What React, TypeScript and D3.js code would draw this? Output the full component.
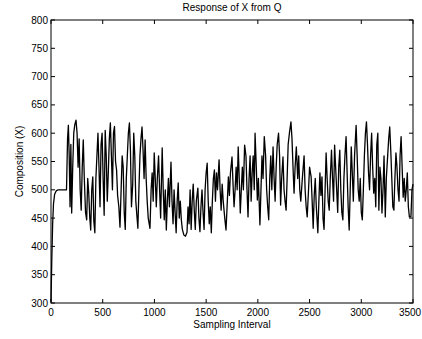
import React from "react";
import * as d3 from "d3";

const title = "Response of X from Q";
const xLabel = "Sampling Interval";
const yLabel = "Composition (X)";
const xTicks = [0, 500, 1000, 1500, 2000, 2500, 3000, 3500];
const yTicks = [300, 350, 400, 450, 500, 550, 600, 650, 700, 750, 800];

const sampleIndex = [
  0, 8, 16, 24, 35, 50, 70, 150, 160, 168, 176, 184, 192, 200, 210, 220, 230, 242, 252, 262, 272, 282, 292, 302, 312, 322, 334, 345, 355, 365, 375, 384, 394, 404, 414, 424, 434, 444, 454, 464, 474, 484, 494, 504, 514, 524, 534, 544, 554, 564, 574, 584, 594, 604, 614, 624, 634, 644, 656, 667, 678, 688, 698, 708, 718, 728, 738, 748, 758, 768, 778, 790, 800, 810, 820, 830, 840, 850, 860, 870, 880, 890, 900, 910, 920, 930, 940, 957, 968, 978, 988, 998, 1008, 1018, 1028, 1040, 1050, 1060, 1075, 1085, 1095, 1105, 1115, 1125, 1135, 1145, 1160, 1170, 1180, 1190, 1200, 1210, 1220, 1230, 1240, 1250, 1260, 1270, 1285, 1300, 1315, 1325, 1335, 1345, 1355, 1365, 1375, 1385, 1395, 1405, 1420, 1430, 1440, 1450, 1460, 1470, 1480, 1490, 1500, 1510, 1520, 1530, 1540, 1550, 1560, 1570, 1580, 1590, 1600, 1610, 1625, 1635, 1645, 1655, 1665, 1680, 1692, 1705, 1715, 1725, 1735, 1750, 1760, 1770, 1780, 1790, 1800, 1810, 1820, 1830, 1840, 1850, 1860, 1872, 1885, 1895, 1905, 1915, 1925, 1935, 1945, 1955, 1965, 1973, 1985, 1995, 2005, 2020, 2030, 2040, 2050, 2062, 2075, 2085, 2095, 2105, 2115, 2125, 2135, 2147, 2157, 2167, 2177, 2187, 2200, 2210, 2220, 2230, 2243, 2253, 2263, 2273, 2283, 2293, 2305, 2320, 2330, 2340, 2350, 2360, 2372, 2385, 2395, 2405, 2415, 2430, 2447, 2457, 2467, 2477, 2490, 2500, 2515, 2525, 2535, 2545, 2555, 2565, 2580, 2590, 2600, 2610, 2620, 2630, 2640, 2650, 2660, 2670, 2680, 2690, 2700, 2712, 2722, 2732, 2742, 2752, 2762, 2772, 2782, 2792, 2802, 2812, 2822, 2832, 2842, 2853, 2863, 2873, 2883, 2893, 2903, 2913, 2923, 2935, 2950, 2960, 2970, 2980, 2990, 3000, 3010, 3020, 3030, 3040, 3050, 3060, 3070, 3080, 3090, 3100, 3110, 3120, 3130, 3140, 3150, 3160, 3170, 3180, 3190, 3200, 3210, 3220, 3232, 3242, 3255, 3265, 3275, 3285, 3295, 3305, 3315, 3325, 3335, 3345, 3355, 3365, 3375, 3385, 3395, 3405, 3415, 3425, 3435, 3445, 3455, 3465, 3480, 3490, 3500,
];

const composition = [
  302, 380, 440, 475, 492, 498, 500, 500, 590, 614, 560, 470, 580, 459, 540, 600, 615, 623, 600, 540, 590, 500, 464, 540, 588, 520, 460, 447, 520, 494, 450, 429, 500, 523, 445, 424, 520, 560, 600, 540, 470, 580, 600, 520, 455, 605, 560, 480, 530, 590, 618, 560, 500, 600, 612, 550, 535, 490, 470, 434, 500, 560, 540, 460, 430, 520, 560, 600, 618, 570, 470, 510, 600, 560, 480, 455, 432, 500, 560, 590, 611, 570, 520, 588, 520, 480, 450, 432, 500, 530, 480, 565, 520, 470, 520, 560, 500, 450, 574, 500, 447, 500, 429, 480, 520, 470, 549, 480, 440, 500, 460, 424, 480, 512, 450, 480, 447, 430, 420, 418, 425, 470, 440, 500, 430, 480, 510, 464, 430, 480, 503, 450, 426, 470, 500, 460, 430, 500, 530, 547, 480, 440, 470, 424, 480, 520, 535, 480, 530, 500, 553, 500, 464, 510, 480, 450, 429, 480, 523, 490, 530, 558, 510, 470, 500, 540, 500, 576, 520, 459, 500, 540, 500, 579, 560, 500, 452, 520, 560, 480, 530, 560, 500, 600, 540, 482, 520, 438, 500, 560, 520, 594, 560, 500, 470, 447, 520, 560, 500, 576, 520, 480, 540, 580, 600, 560, 473, 520, 558, 500, 480, 464, 520, 580, 600, 620, 590, 540, 494, 540, 576, 520, 560, 500, 480, 520, 560, 500, 470, 452, 500, 540, 523, 480, 432, 490, 520, 470, 424, 480, 530, 490, 523, 450, 430, 500, 565, 520, 480, 464, 520, 570, 520, 480, 579, 540, 500, 460, 540, 570, 500, 460, 447, 520, 560, 594, 530, 470, 429, 500, 576, 530, 480, 560, 614, 560, 500, 480, 520, 460, 447, 500, 560, 600, 620, 580, 530, 500, 560, 600, 540, 494, 520, 470, 580, 600, 464, 540, 520, 459, 500, 560, 452, 520, 560, 590, 611, 570, 520, 470, 464, 520, 565, 540, 500, 480, 560, 594, 540, 487, 520, 480, 500, 530, 470, 452, 452, 500, 510,
];

const W = 422;
const H = 339;
const margin = { left: 51, right: 9, top: 20, bottom: 36 };
const font = "'Liberation Sans', Arial, sans-serif";

export default function App() {
  const x = d3.scaleLinear().domain([0, 3500]).range([margin.left, W - margin.right]);
  const y = d3.scaleLinear().domain([300, 800]).range([H - margin.bottom, margin.top]);
  const line = d3
    .line<number>()
    .x((_, i) => x(sampleIndex[i]))
    .y((d) => y(d));
  const path = line(composition) || "";
  const x0 = x(0), x1 = x(3500), y0 = y(300), y1 = y(800);
  const tl = 4;
  return (
    <svg
      width={W}
      height={H}
      style={{ position: "absolute", left: 0, top: 0, background: "#fff" }}
      fontFamily={font}
    >
      <rect x={0} y={0} width={W} height={H} fill="#fff" />
      <path d={path} fill="none" stroke="#000" strokeWidth={1.3} strokeLinejoin="round" />
      <rect x={x0} y={y1} width={x1 - x0} height={y0 - y1} fill="none" stroke="#000" strokeWidth={1} />
      {xTicks.map((t) => (
        <g key={"x" + t}>
          <line x1={x(t)} x2={x(t)} y1={y0} y2={y0 - tl} stroke="#000" />
          <line x1={x(t)} x2={x(t)} y1={y1} y2={y1 + tl} stroke="#000" />
          <text
            x={Math.min(x(t), W - 12)}
            y={y0 + 13}
            fontSize={10}
            textAnchor="middle"
            fill="#000"
          >
            {t}
          </text>
        </g>
      ))}
      {yTicks.map((t) => (
        <g key={"y" + t}>
          <line x1={x0} x2={x0 + tl} y1={y(t)} y2={y(t)} stroke="#000" />
          <line x1={x1} x2={x1 - tl} y1={y(t)} y2={y(t)} stroke="#000" />
          <text x={x0 - 3} y={y(t) + 3.5} fontSize={10} textAnchor="end" fill="#000">
            {t}
          </text>
        </g>
      ))}
      <text x={(x0 + x1) / 2} y={11} fontSize={10} textAnchor="middle" fill="#000">
        {title}
      </text>
      <text x={(x0 + x1) / 2} y={y0 + 25} fontSize={10} textAnchor="middle" fill="#000">
        {xLabel}
      </text>
      <text
        transform={`translate(23, ${(y0 + y1) / 2}) rotate(-90)`}
        fontSize={10}
        textAnchor="middle"
        fill="#000"
      >
        {yLabel}
      </text>
    </svg>
  );
}
